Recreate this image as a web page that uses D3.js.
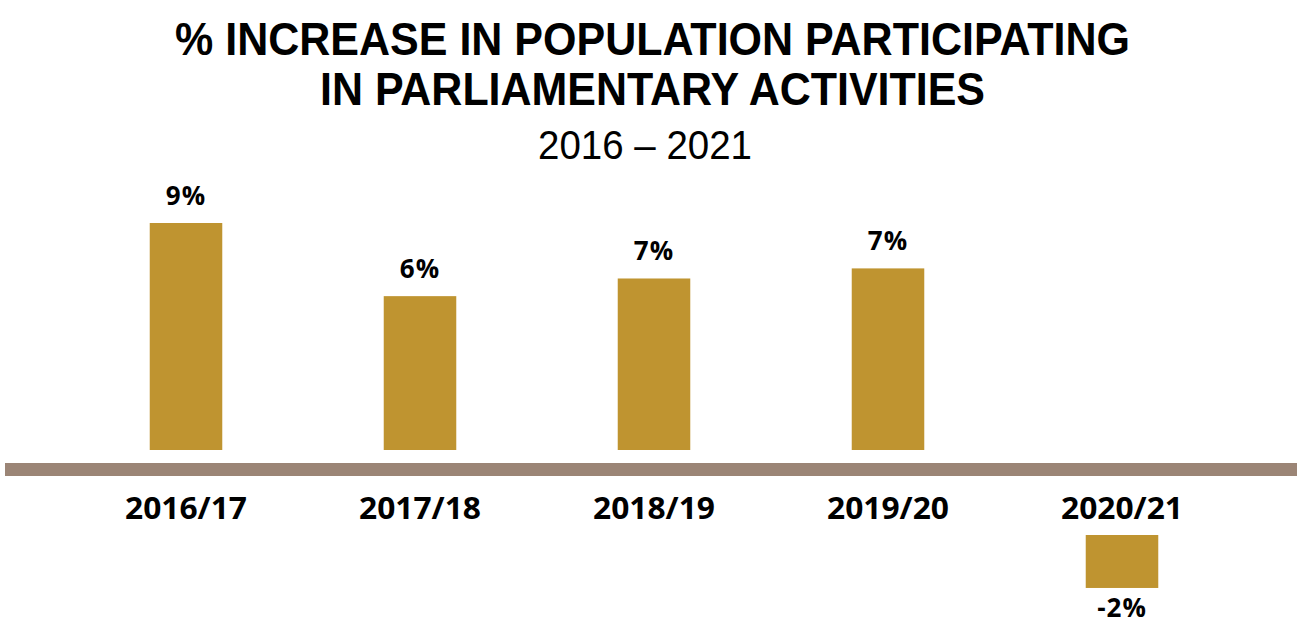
<!DOCTYPE html>
<html>
<head>
<meta charset="utf-8">
<script src="https://cdn.jsdelivr.net/npm/d3@7"></script>
<style>
  body { margin: 0; background: #fff; }
  svg { display: block; }
</style>
</head>
<body>
<script>
var years = ["2016/17", "2017/18", "2018/19", "2019/20", "2020/21"];
var increase = [9.0, 6.1, 6.8, 7.2, -2.1];
var valueLabels = ["9%", "6%", "7%", "7%", "-2%"];

var svgWidth = 1301;
var svgHeight = 626;

var svg = d3.select("body")
  .append("svg")
  .attr("width", svgWidth)
  .attr("height", svgHeight);

// titles - squeezed to mimic the condensed face of the original
function titleLine(txt, cx, by, size, len, bold) {
  svg.append("text")
    .attr("x", cx - len / 2).attr("y", by)
    .attr("textLength", len)
    .attr("lengthAdjust", "spacingAndGlyphs")
    .style("font-family", "'Liberation Sans', Arial, sans-serif")
    .style("font-weight", bold ? "bold" : "normal")
    .style("font-size", size + "px")
    .text(txt);
}
titleLine("% INCREASE IN POPULATION PARTICIPATING", 652.5, 55, 47, 955, true);
titleLine("IN PARLIAMENTARY ACTIVITIES", 652.5, 105, 47, 665, true);
titleLine("2016 \u2013 2021", 645, 159, 40, 214, false);

var x = d3.scaleBand()
  .domain(years)
  .range([69, 1239])
  .paddingInner(0.69)
  .paddingOuter(0.345);

var y = d3.scaleLinear()
  .domain([0, 9])
  .range([450, 223]);

var negBase = 535; // negative bars sit below the category labels

var gold = "#BF9430";

// axis band
svg.append("rect")
  .attr("x", 5).attr("y", 463)
  .attr("width", 1292).attr("height", 13)
  .attr("fill", "#9B8576");

var data = years.map(function(d, i) {
  return { year: d, value: increase[i], label: valueLabels[i] };
});

svg.selectAll("rect.bar")
  .data(data)
  .enter()
  .append("rect")
  .attr("class", "bar")
  .attr("x", d => x(d.year))
  .attr("width", x.bandwidth())
  .attr("y", d => d.value >= 0 ? y(d.value) : negBase)
  .attr("height", d => Math.abs(y(d.value) - y(0)))
  .attr("fill", gold);

svg.selectAll("text.value")
  .data(data)
  .enter()
  .append("text")
  .attr("class", "value")
  .attr("x", d => x(d.year) + x.bandwidth() / 2)
  .attr("y", d => d.value >= 0 ? y(d.value) - 18 : negBase + (y(d.value) - y(0)) + 29)
  .attr("text-anchor", "middle")
  .style("font-family", "'Open Sans', sans-serif")
  .style("font-weight", "bold")
  .style("font-size", "26px")
  .style("letter-spacing", "1px")
  .text(d => d.label);

svg.selectAll("text.year")
  .data(years)
  .enter()
  .append("text")
  .attr("class", "year")
  .attr("x", d => x(d) + x.bandwidth() / 2 - 61)
  .attr("y", 519)
  .attr("textLength", 122)
  .attr("lengthAdjust", "spacingAndGlyphs")
  .style("font-family", "'Open Sans', sans-serif")
  .style("font-weight", "bold")
  .style("font-size", "30px")
  .text(d => d);
</script>
</body>
</html>
